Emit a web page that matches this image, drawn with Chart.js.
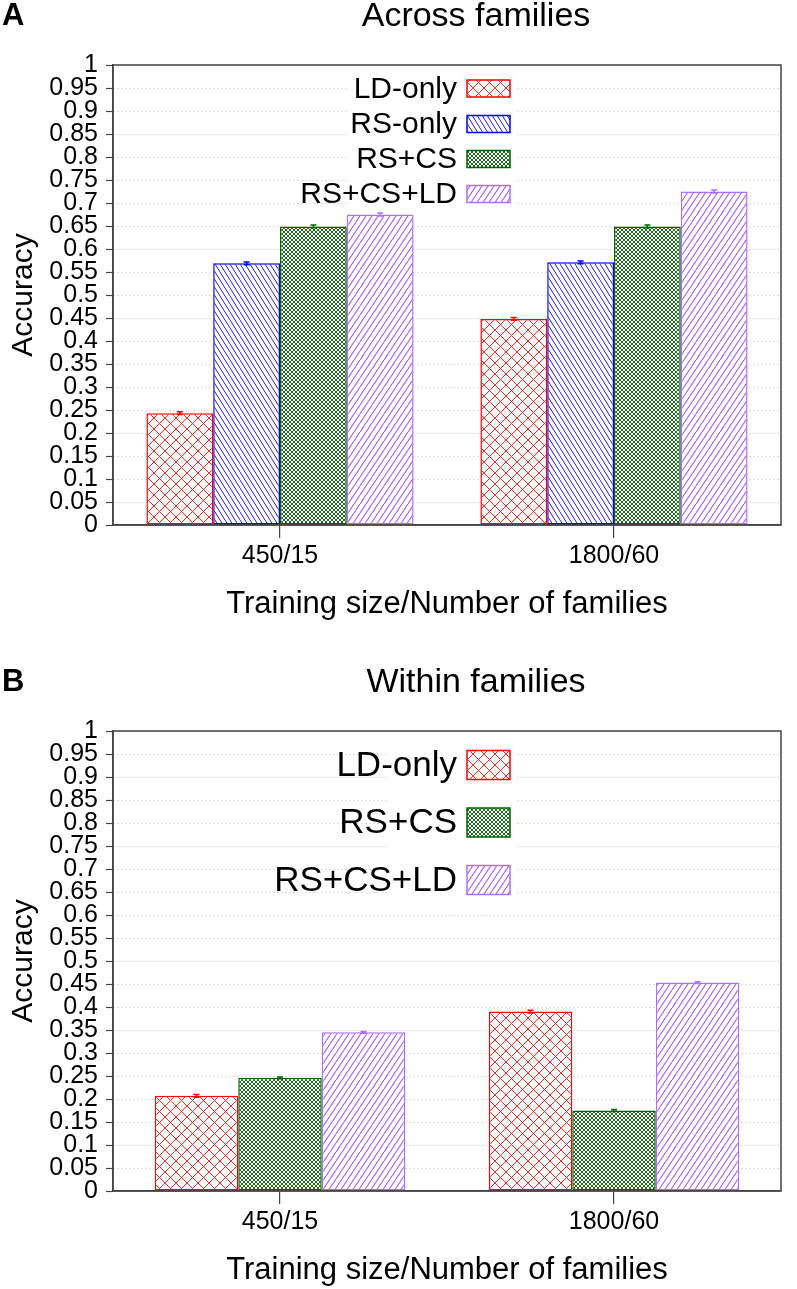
<!DOCTYPE html>
<html>
<head>
<meta charset="utf-8">
<script src="https://cdn.jsdelivr.net/npm/chart.js@4.4.1/dist/chart.umd.min.js"></script>
<style>
  html, body { margin: 0; padding: 0; background: #fff; }
  body { width: 797px; height: 1289px; position: relative; overflow: hidden; }
  .panel { position: absolute; left: 0; width: 797px; height: 623px; }
  #panelA { top: 0; }
  #panelB { top: 666px; }
</style>
</head>
<body>
<div class="panel" id="panelA"><canvas id="chartA"></canvas></div>
<div class="panel" id="panelB"><canvas id="chartB"></canvas></div>
<script>
const categories = ["450/15", "1800/60"];

// A: across families
const acrossLD = [0.243, 0.448];
const acrossRS = [0.569, 0.571];
const acrossRSCS = [0.649, 0.649];
const acrossAll = [0.675, 0.725];
const acrossLDErr = [0.003, 0.003];
const acrossRSErr = [0.003, 0.003];
const acrossRSCSErr = [0.003, 0.003];
const acrossAllErr = [0.003, 0.003];

// B: within families
const withinLD = [0.207, 0.390];
const withinRSCS = [0.246, 0.175];
const withinAll = [0.345, 0.453];
const withinLDErr = [0.003, 0.003];
const withinRSCSErr = [0.002, 0.002];
const withinAllErr = [0.002, 0.002];

const FONT = "'Liberation Sans', Arial, Helvetica, sans-serif";

// hatch pattern builder (w x h tile, "/" and/or "\" lines)
function hatch(color, w, h, dirs, lw) {
    const c = document.createElement("canvas");
    c.width = w; c.height = h;
    const g = c.getContext("2d");
    g.fillStyle = "#fff";
    g.fillRect(0, 0, w, h);
    g.strokeStyle = color;
    g.lineWidth = lw;
    dirs.forEach(d => {
        g.beginPath();
        for (let k = -1; k <= 1; k++) {
            if (d === "/") { g.moveTo(k * w, h); g.lineTo(k * w + w, 0); }
            else { g.moveTo(k * w, 0); g.lineTo(k * w + w, h); }
        }
        g.stroke();
    });
    return g.createPattern(c, "repeat");
}

const styles = {
    ld:   { fill: hatch("#ff2a2a", 11, 11, ["/", "\\"], 1), line: "#ff0000" },
    rs:   { fill: hatch("#2020e0", 5, 8, ["\\"], 1), line: "#0000ff" },
    rscs: { fill: hatch("#1f6b1f", 4, 4, ["/", "\\"], 1), line: "#006400" },
    all:  { fill: hatch("#a866f5", 6, 9, ["/"], 1.2), line: "#b070ff" }
};

function ds(label, data, err, st) {
    return {
        label: label, data: data, err: err,
        backgroundColor: st.fill, borderColor: st.line,
        borderWidth: 1.5, borderSkipped: false
    };
}

// error bars, legend, frame and titles
const deco = {
    id: "deco",
    afterDatasetsDraw(chart) {
        const ctx = chart.ctx, y = chart.scales.y;
        chart.data.datasets.forEach((d, i) => {
            chart.getDatasetMeta(i).data.forEach((bar, j) => {
                const v = d.data[j], e = d.err[j];
                const y1 = y.getPixelForValue(v + e), y2 = y.getPixelForValue(v - e);
                ctx.save();
                ctx.strokeStyle = d.borderColor;
                ctx.lineWidth = 1.5;
                ctx.beginPath();
                ctx.moveTo(bar.x, y1); ctx.lineTo(bar.x, y2);
                ctx.moveTo(bar.x - 3, y1); ctx.lineTo(bar.x + 3, y1);
                ctx.moveTo(bar.x - 3, y2); ctx.lineTo(bar.x + 3, y2);
                ctx.stroke();
                ctx.restore();
            });
        });
    },
    afterDraw(chart, args, o) {
        const ctx = chart.ctx, a = chart.chartArea, L = o.legend;
        ctx.save();
        // legend
        ctx.fillStyle = "#fff";
        ctx.fillRect(L.bg[0], L.bg[1], L.bg[2], L.bg[3]);
        ctx.font = L.size + "px " + FONT;
        ctx.textAlign = "right";
        ctx.textBaseline = "middle";
        chart.data.datasets.forEach((d, i) => {
            const cy = L.rows[i];
            ctx.fillStyle = "#000";
            ctx.fillText(d.label, L.textRight, cy + 1);
            ctx.fillStyle = d.backgroundColor;
            ctx.fillRect(L.boxLeft, cy - L.boxH / 2, L.boxW, L.boxH);
            ctx.strokeStyle = d.borderColor;
            ctx.lineWidth = 1.5;
            ctx.strokeRect(L.boxLeft, cy - L.boxH / 2, L.boxW, L.boxH);
        });
        // frame
        ctx.strokeStyle = "#444";
        ctx.lineWidth = 1.5;
        ctx.strokeRect(a.left, a.top, a.right - a.left, a.bottom - a.top);
        // panel letter + title
        ctx.fillStyle = "#000";
        ctx.textBaseline = "middle";
        ctx.textAlign = "left";
        ctx.font = "bold 31px " + FONT;
        ctx.fillText(o.letter, 2, 16);
        ctx.textAlign = "center";
        ctx.font = "34px " + FONT;
        ctx.fillText(o.title, o.titleX, 17);
        ctx.restore();
    }
};

function makeChart(id, datasets, pct, letter, title, legend) {
    return new Chart(document.getElementById(id), {
        type: "bar",
        data: { labels: categories, datasets: datasets },
        options: {
            responsive: true,
            maintainAspectRatio: false,
            animation: false,
            layout: { padding: { top: 65, right: 16, left: 0, bottom: 0 } },
            datasets: { bar: { categoryPercentage: pct, barPercentage: 1 } },
            plugins: {
                legend: { display: false },
                title: { display: false },
                tooltip: { enabled: false },
                deco: { letter: letter, title: title, titleX: 476, legend: legend }
            },
            scales: {
                x: {
                    afterFit: s => { s.height = 98; },
                    grid: { offset: false, drawOnChartArea: false, drawTicks: true, tickLength: 13, tickColor: "#444", lineWidth: 1.2 },
                    border: { color: "#444", width: 1.5 },
                    ticks: { color: "#000", padding: 3, font: { family: FONT, size: 25 } },
                    title: { display: true, text: "Training size/Number of families", color: "#000",
                             padding: { top: 0, bottom: 0 }, font: { family: FONT, size: 31 } }
                },
                y: {
                    min: 0, max: 1,
                    afterFit: s => { s.width = 113; },
                    grid: { color: "#b8b8b8", lineWidth: 1, tickLength: 7, tickColor: "#444", tickWidth: 1.2 },
                    border: { color: "#444", width: 1.5, dash: [1, 3] },
                    ticks: { stepSize: 0.05, autoSkip: false, color: "#000", padding: 8, font: { family: FONT, size: 25 },
                             callback: v => String(+v.toFixed(2)) },
                    title: { display: true, text: "Accuracy", color: "#000",
                             padding: { top: 6, bottom: 0 }, font: { family: FONT, size: 30 } }
                }
            }
        },
        plugins: [deco]
    });
}

makeChart("chartA", [
    ds("LD-only", acrossLD, acrossLDErr, styles.ld),
    ds("RS-only", acrossRS, acrossRSErr, styles.rs),
    ds("RS+CS", acrossRSCS, acrossRSCSErr, styles.rscs),
    ds("RS+CS+LD", acrossAll, acrossAllErr, styles.all)
], 0.8, "A", "Across families",
   { bg: [347, 68, 170, 143], rows: [88.5, 124, 159, 194], textRight: 457, boxLeft: 467, boxW: 43, boxH: 17, size: 30 });

makeChart("chartB", [
    ds("LD-only", withinLD, withinLDErr, styles.ld),
    ds("RS+CS", withinRSCS, withinRSCSErr, styles.rscs),
    ds("RS+CS+LD", withinAll, withinAllErr, styles.all)
], 0.75, "B", "Within families",
   { bg: [388, 69, 129, 170], rows: [99, 156.5, 214], textRight: 457, boxLeft: 467, boxW: 43, boxH: 29, size: 35 });
</script>
</body>
</html>
